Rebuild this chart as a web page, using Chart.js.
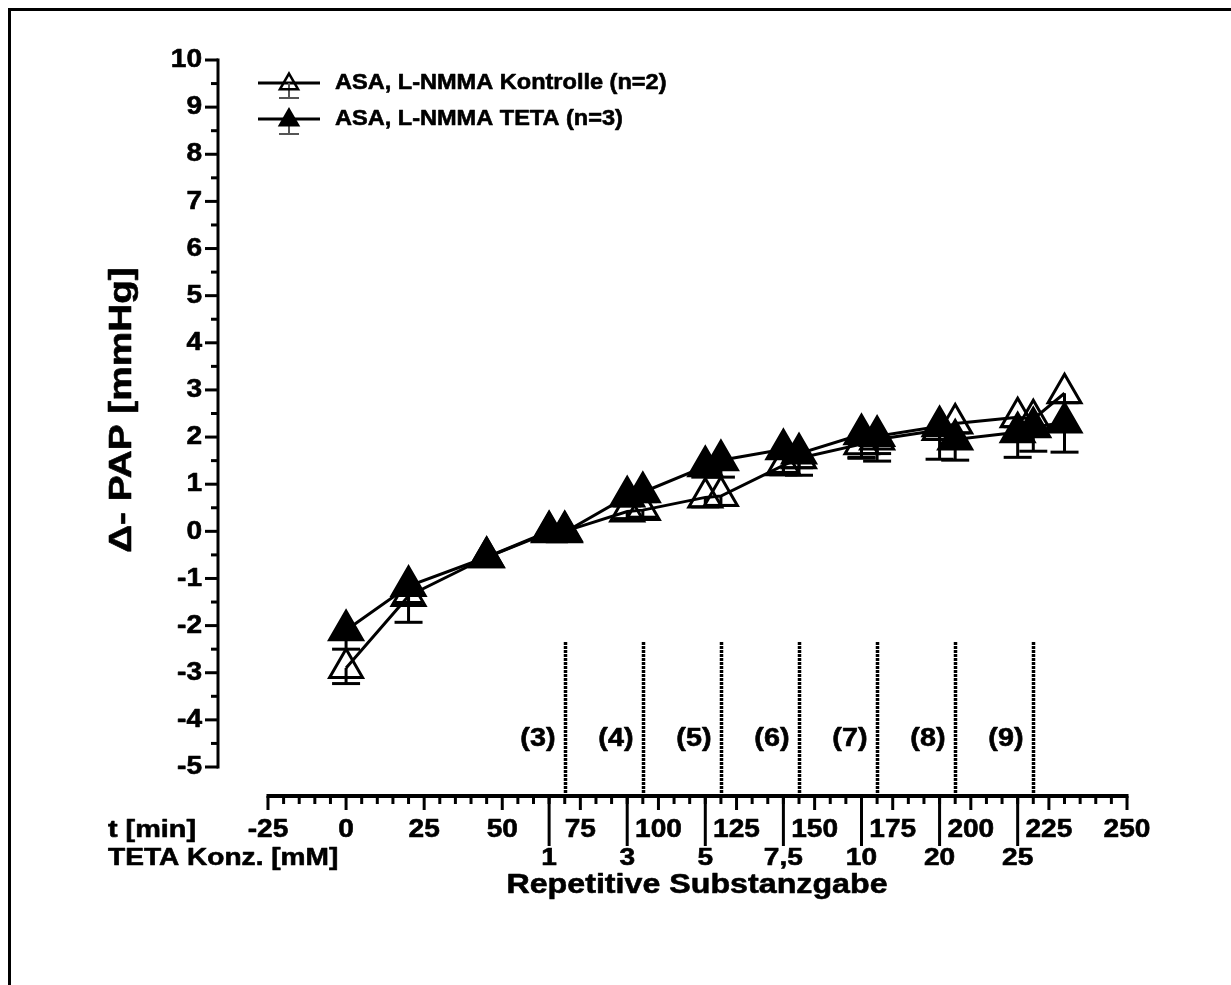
<!DOCTYPE html>
<html><head><meta charset="utf-8">
<style>html,body{margin:0;padding:0;background:#fff;} canvas{display:block;}</style>
<script src="https://cdn.jsdelivr.net/npm/chart.js@4.4.0/dist/chart.umd.min.js"></script>
</head><body>
<canvas id="c" width="1231" height="985"></canvas>
<script>
// ---- data ----
const times       = [0, 20, 45, 65, 70, 90, 95, 115, 120, 140, 145, 165, 170, 190, 195, 215, 220, 230];
const controlMean = [-2.9, -1.37, -0.55, -0.02, 0.0, 0.42, 0.45, 0.72, 0.75, 1.4, 1.55, 1.85, 1.95, 2.15, 2.29, 2.42, 2.38, 2.93];
const controlErr  = [0.33, 0.56, 0.15, 0.15, 0.15, 0.15, 0.15, 0.2, 0.2, 0.2, 0.2, 0.3, 0.3, 0.2, 0.2, 0.2, 0.2, 0.2];
const tetaMean    = [-2.1, -1.16, -0.55, 0.0, -0.02, 0.74, 0.83, 1.38, 1.51, 1.74, 1.65, 2.06, 2.02, 2.23, 1.95, 2.1, 2.21, 2.31];
const tetaErr     = [0.4, 0.35, 0.15, 0.15, 0.15, 0.2, 0.2, 0.23, 0.36, 0.49, 0.46, 0.49, 0.53, 0.7, 0.44, 0.53, 0.51, 0.63];
const seriesLabels = ["ASA, L-NMMA Kontrolle (n=2)", "ASA, L-NMMA TETA (n=3)"];
const xTicks = [-25, 0, 25, 50, 75, 100, 125, 150, 175, 200, 225, 250];
const yTicks = [-5, -4, -3, -2, -1, 0, 1, 2, 3, 4, 5, 6, 7, 8, 9, 10];
const periodX = [70, 95, 120, 145, 170, 195, 220];
const periodLabels = ["(3)", "(4)", "(5)", "(6)", "(7)", "(8)", "(9)"];
const concX = [65, 90, 115, 140, 165, 190, 215];
const concLabels = ["1", "3", "5", "7,5", "10", "20", "25"];
const xTitle = "Repetitive Substanzgabe";
const yTitle = "\u0394- PAP [mmHg]";
const tRowLabel = "t [min]";
const concRowLabel = "TETA Konz. [mM]";

// ---- style ----
const FONT = "'Liberation Sans', Arial, Helvetica, sans-serif";
const X_MIN = -41, X_MAX = 250, Y_MIN = -5, Y_MAX = 10;
const AXIS_GAP = 29;
const PERIOD_TOP = -2.35;
const PERIOD_LABEL_Y = -4.4;

function txt(ctx, s, x, y, size, align, sx, rot) {
  ctx.save();
  ctx.translate(x, y);
  if (rot) ctx.rotate(rot);
  ctx.scale(sx || 1, 1);
  ctx.font = `bold ${size}px ${FONT}`;
  ctx.textAlign = align;
  ctx.textBaseline = 'middle';
  ctx.fillStyle = '#000';
  ctx.strokeStyle = '#000';
  ctx.lineWidth = 0.6;
  ctx.lineJoin = 'round';
  ctx.fillText(s, 0, 0);
  ctx.strokeText(s, 0, 0);
  ctx.restore();
}
function line(ctx, x1, y1, x2, y2, w, color, dash) {
  ctx.save();
  ctx.beginPath();
  ctx.strokeStyle = color || '#000';
  ctx.lineWidth = w;
  ctx.lineCap = 'butt';
  if (dash) ctx.setLineDash(dash);
  ctx.moveTo(x1, y1); ctx.lineTo(x2, y2);
  ctx.stroke();
  ctx.restore();
}
function tri(ctx, cx, cy, r, filled) {
  ctx.save();
  ctx.beginPath();
  for (let i = 0; i < 3; i++) {
    const a = i * 2 * Math.PI / 3;
    const px = cx + Math.sin(a) * r, py = cy - Math.cos(a) * r;
    if (i === 0) ctx.moveTo(px, py); else ctx.lineTo(px, py);
  }
  ctx.closePath();
  if (filled) { ctx.fillStyle = '#000'; ctx.fill(); }
  ctx.lineWidth = 2.5; ctx.strokeStyle = '#000'; ctx.stroke();
  ctx.restore();
}

const decor = {
  id: 'decor',
  beforeDraw(chart) {
    const ctx = chart.ctx;
    ctx.save();
    ctx.fillStyle = '#fff';
    ctx.fillRect(0, 0, chart.width, chart.height);
    ctx.restore();
    // frame (top & left)
    line(ctx, 8, 9.5, chart.width, 9.5, 3);
    line(ctx, 9.5, 8, 9.5, chart.height, 3);
  },
  beforeDatasetsDraw(chart) {
    const ctx = chart.ctx, xs = chart.scales.x, ys = chart.scales.y;
    const axY = ys.getPixelForValue(Y_MIN) + AXIS_GAP;
    // period dotted lines + labels
    periodX.forEach((v, i) => {
      const px = Math.round(xs.getPixelForValue(v)) + 0.5;
      line(ctx, px, ys.getPixelForValue(PERIOD_TOP), px, axY, 3.5, '#000', [3, 1]);
      txt(ctx, periodLabels[i], px - 10, ys.getPixelForValue(PERIOD_LABEL_Y), 25, 'right', 1.15);
    });
    // error bars (downward)
    const bars = (means, errs) => {
      times.forEach((t, i) => {
        const px = xs.getPixelForValue(t);
        const y1 = ys.getPixelForValue(means[i]);
        const y2 = ys.getPixelForValue(means[i] - errs[i]);
        line(ctx, px, y1, px, y2, 3);
        line(ctx, px - 14, y2, px + 14, y2, 3);
      });
    };
    bars(controlMean, controlErr);
    bars(tetaMean, tetaErr);
  },
  afterDraw(chart) {
    const ctx = chart.ctx, xs = chart.scales.x, ys = chart.scales.y;
    const left = chart.chartArea.left;
    const axY = ys.getPixelForValue(Y_MIN) + AXIS_GAP;
    // y axis
    line(ctx, left, ys.getPixelForValue(Y_MAX) - 1.5, left, ys.getPixelForValue(Y_MIN) + 1.5, 3);
    yTicks.forEach((v, i) => {
      const py = ys.getPixelForValue(v);
      line(ctx, left - 13, py, left, py, 3);
      if (i < yTicks.length - 1) {
        const pm = ys.getPixelForValue((v + yTicks[i + 1]) / 2);
        line(ctx, left - 7, pm, left, pm, 3);
      }
      txt(ctx, String(v), left - 16, py, 26, 'right', 1.08);
    });
    // x axis
    const x0 = xs.getPixelForValue(xTicks[0]), x1 = xs.getPixelForValue(xTicks[xTicks.length - 1]);
    line(ctx, x0 - 1.5, axY, x1 + 1.5, axY, 4);
    xTicks.forEach((v, i) => {
      const px = xs.getPixelForValue(v);
      line(ctx, px, axY, px, axY + 14, 3);
      if (i < xTicks.length - 1) {
        const step = (xTicks[i + 1] - v) / 5;
        for (let k = 1; k < 5; k++) {
          const pm = xs.getPixelForValue(v + k * step);
          line(ctx, pm, axY, pm, axY + 8, 3);
        }
      }
      txt(ctx, String(v), px, axY + 34, 26, 'center', 1.08);
    });
    // concentration markers
    concX.forEach((v, i) => {
      const px = xs.getPixelForValue(v);
      line(ctx, px, axY, px, axY + 50, 3);
      txt(ctx, concLabels[i], px, axY + 62, 24, 'center', 1.17);
    });
    txt(ctx, tRowLabel, 108, axY + 34, 24, 'left', 1.2);
    txt(ctx, concRowLabel, 108, axY + 62, 24, 'left', 1.17);
    txt(ctx, xTitle, 697, axY + 89, 28, 'center', 1.15);
    txt(ctx, yTitle, 122, 410, 31, 'center', 1.25, -Math.PI / 2);
    // legend
    const lg = [[83, false], [119, true]];
    lg.forEach(([ly, filled], i) => {
      line(ctx, 258, ly, 320, ly, 3);
      line(ctx, 289, ly, 289, ly + 15, 2, '#555');
      line(ctx, 279, ly + 15, 299, ly + 15, 2, '#555');
      tri(ctx, 289, ly + 1, 10.5, filled);
      txt(ctx, seriesLabels[i], 335, ly, 22, 'left', 1.07);
    });
  }
};

const mk = arr => times.map((t, i) => ({ x: t, y: arr[i] }));

new Chart(document.getElementById('c'), {
  type: 'line',
  data: {
    datasets: [
      {
        label: seriesLabels[0], data: mk(controlMean), order: 1,
        borderColor: '#000', borderWidth: 3, tension: 0,
        pointStyle: 'triangle', pointRadius: 19, pointHoverRadius: 19,
        pointBackgroundColor: 'rgba(0,0,0,0)', pointBorderColor: '#000', pointBorderWidth: 3,
        clip: false
      },
      {
        label: seriesLabels[1], data: mk(tetaMean), order: 0,
        borderColor: '#000', borderWidth: 3, tension: 0,
        pointStyle: 'triangle', pointRadius: 19, pointHoverRadius: 19,
        pointBackgroundColor: '#000', pointBorderColor: '#000', pointBorderWidth: 3,
        clip: false
      }
    ]
  },
  options: {
    responsive: false,
    animation: false,
    devicePixelRatio: 1,
    layout: { padding: { left: 218, right: 104, top: 60, bottom: 218 } },
    plugins: { legend: { display: false }, tooltip: { enabled: false } },
    events: [],
    scales: {
      x: { type: 'linear', min: X_MIN, max: X_MAX, display: false },
      y: { type: 'linear', min: Y_MIN, max: Y_MAX, display: false }
    }
  },
  plugins: [decor]
});
</script>
</body></html>
